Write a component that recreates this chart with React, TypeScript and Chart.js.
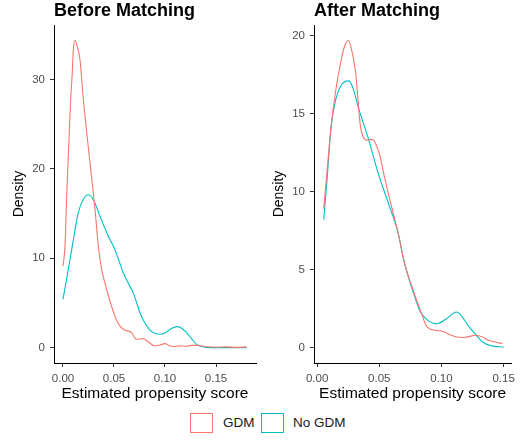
import React, { useEffect, useRef } from "react";
import { Chart, registerables } from "chart.js";

Chart.register(...registerables);

// ---------- data ----------
const beforeGdmX = [0.0, 0.002, 0.0036, 0.0059, 0.0075, 0.0091, 0.0101, 0.0118, 0.014, 0.0167, 0.02, 0.024, 0.0265, 0.03, 0.0314, 0.0346, 0.038, 0.041, 0.044, 0.0477, 0.052, 0.0559, 0.06, 0.064, 0.067, 0.072, 0.0787, 0.084, 0.09, 0.095, 0.1, 0.104, 0.108, 0.115, 0.12, 0.126, 0.131, 0.136, 0.141, 0.15, 0.16, 0.17, 0.18];
const beforeGdmY = [9.1, 11.4, 16.9, 23.3, 27.7, 30.7, 33.3, 34.4, 33.7, 32.2, 27.7, 23.3, 20.7, 17.0, 15.5, 11.4, 8.7, 7.3, 6.0, 4.6, 3.2, 2.4, 2.0, 1.85, 1.7, 0.93, 1.0, 0.6, 0.18, 0.3, 0.45, 0.25, 0.1, 0.2, 0.15, 0.25, 0.25, 0.18, 0.1, 0.05, 0.08, 0.03, 0.08];

const beforeNoGdmX = [0.0, 0.005, 0.0095, 0.015, 0.02, 0.0248, 0.03, 0.0363, 0.042, 0.046, 0.0493, 0.054, 0.059, 0.064, 0.069, 0.0755, 0.08, 0.085, 0.09, 0.095, 0.1, 0.106, 0.1115, 0.116, 0.121, 0.126, 0.131, 0.136, 0.141, 0.15, 0.165, 0.18];
const beforeNoGdmY = [5.4, 8.6, 11.6, 15.1, 16.6, 17.1, 16.5, 14.7, 13.1, 12.1, 11.4, 10.0, 8.4, 7.2, 6.1, 3.9, 2.8, 2.0, 1.6, 1.5, 1.65, 2.1, 2.35, 2.2, 1.7, 1.0, 0.37, 0.12, 0.03, 0.0, 0.0, 0.0];

const afterGdmX = [0.0053, 0.008, 0.0113, 0.015, 0.019, 0.022, 0.0251, 0.028, 0.031, 0.0348, 0.037, 0.04, 0.043, 0.0453, 0.048, 0.0505, 0.054, 0.0584, 0.065, 0.07, 0.0767, 0.083, 0.0885, 0.0963, 0.1016, 0.106, 0.112, 0.118, 0.1277, 0.133, 0.138, 0.144, 0.149];
const afterGdmY = [8.9, 11.3, 14.2, 16.5, 18.3, 19.3, 19.7, 19.0, 17.6, 14.2, 13.5, 13.3, 13.35, 13.3, 12.9, 12.3, 11.0, 9.5, 7.4, 5.5, 3.8, 2.4, 1.32, 1.1, 1.04, 0.85, 0.68, 0.65, 0.79, 0.68, 0.47, 0.35, 0.26];

const afterNoGdmX = [0.0053, 0.008, 0.0113, 0.015, 0.02, 0.0257, 0.029, 0.0335, 0.0414, 0.049, 0.058, 0.065, 0.07, 0.0767, 0.083, 0.09, 0.0963, 0.104, 0.112, 0.1224, 0.128, 0.133, 0.14, 0.15];
const afterNoGdmY = [8.2, 10.8, 14.2, 15.9, 16.9, 17.1, 16.6, 15.3, 13.35, 11.2, 9.1, 7.4, 5.5, 3.7, 2.3, 1.7, 1.53, 1.85, 2.28, 1.32, 0.8, 0.36, 0.12, 0.04];

const xTickValues = [0, 0.05, 0.1, 0.15];
const beforeYTicks = [0, 10, 20, 30];
const afterYTicks = [0, 5, 10, 15, 20];

const groupLabels = ["GDM", "No GDM"];
const panelTitles = ["Before Matching", "After Matching"];
const xAxisTitle = "Estimated propensity score";
const yAxisTitle = "Density";

const RED = "#F8766D";
const CYAN = "#00BFC4";
const FONT = '"Liberation Sans", Arial, sans-serif';

const zip = (xs: number[], ys: number[]) => xs.map((x, i) => ({ x, y: ys[i] }));

const panelTitlePlugin = {
  id: "panelTitle",
  afterDraw(chart: any, _args: any, opts: any) {
    const { ctx, chartArea } = chart;
    ctx.save();
    ctx.font = `bold 18px ${FONT}`;
    ctx.fillStyle = "#000";
    ctx.textAlign = "left";
    ctx.textBaseline = "alphabetic";
    ctx.fillText(opts.text, chartArea.left, 16);
    ctx.restore();
  },
};

function makeChart(
  canvas: HTMLCanvasElement,
  title: string,
  gdm: { x: number; y: number }[],
  nogdm: { x: number; y: number }[],
  xMin: number,
  xMax: number,
  yMin: number,
  yMax: number,
  yTicks: number[]
) {
  return new Chart(canvas, {
    type: "line",
    data: {
      datasets: [
        {
          label: groupLabels[0],
          data: gdm,
          borderColor: RED,
          borderWidth: 1.1,
          pointRadius: 0,
          cubicInterpolationMode: "monotone",
          fill: false,
        },
        {
          label: groupLabels[1],
          data: nogdm,
          borderColor: CYAN,
          borderWidth: 1.1,
          pointRadius: 0,
          cubicInterpolationMode: "monotone",
          fill: false,
        },
      ],
    },
    options: {
      responsive: false,
      animation: false,
      devicePixelRatio: 1,
      layout: { padding: { top: 25, right: 4, left: 0, bottom: 0 } },
      plugins: {
        legend: { display: false },
        tooltip: { enabled: false },
        panelTitle: { text: title },
      } as any,
      scales: {
        x: {
          type: "linear",
          min: xMin,
          max: xMax,
          afterBuildTicks: (s: any) => {
            s.ticks = xTickValues.map((v) => ({ value: v }));
          },
          afterFit: (s: any) => {
            s.height = 42;
          },
          ticks: {
            autoSkip: false,
            maxRotation: 0,
            padding: 5,
            color: "#4D4D4D",
            font: { size: 11.5, family: FONT },
            callback: (v: any) => Number(v).toFixed(2),
          },
          grid: {
            display: true,
            drawOnChartArea: false,
            drawTicks: true,
            tickLength: 4,
            color: "#333333",
          },
          border: { display: true, color: "#000", width: 1 },
          title: {
            display: true,
            text: xAxisTitle,
            color: "#000",
            font: { size: 15.5, family: FONT },
            padding: { top: 0, bottom: 2 },
          },
        },
        y: {
          type: "linear",
          min: yMin,
          max: yMax,
          afterBuildTicks: (s: any) => {
            s.ticks = yTicks.map((v) => ({ value: v }));
          },
          afterFit: (s: any) => {
            s.width = 54;
          },
          ticks: {
            autoSkip: false,
            padding: 5,
            color: "#4D4D4D",
            font: { size: 11.5, family: FONT },
            callback: (v: any) => String(v),
          },
          grid: {
            display: true,
            drawOnChartArea: false,
            drawTicks: true,
            tickLength: 4,
            color: "#333333",
          },
          border: { display: true, color: "#000", width: 1 },
          title: {
            display: true,
            text: yAxisTitle,
            color: "#000",
            font: { size: 14, family: FONT },
            padding: { top: 11, bottom: 0 },
          },
        },
      },
    } as any,
    plugins: [panelTitlePlugin],
  });
}

export default function App() {
  const leftRef = useRef<HTMLCanvasElement>(null);
  const rightRef = useRef<HTMLCanvasElement>(null);

  useEffect(() => {
    const c1 = makeChart(
      leftRef.current!,
      panelTitles[0],
      zip(beforeGdmX, beforeGdmY),
      zip(beforeNoGdmX, beforeNoGdmY),
      -0.0088,
      0.1892,
      -1.72,
      36.1,
      beforeYTicks
    );
    const c2 = makeChart(
      rightRef.current!,
      panelTitles[1],
      zip(afterGdmX, afterGdmY),
      zip(afterNoGdmX, afterNoGdmY),
      -0.0025,
      0.156,
      -0.985,
      20.68,
      afterYTicks
    );
    return () => {
      c1.destroy();
      c2.destroy();
    };
  }, []);

  const legendText: React.CSSProperties = {
    position: "absolute",
    top: 414,
    fontFamily: FONT,
    fontSize: 13.5,
    lineHeight: "18px",
    color: "#1a1a1a",
  };
  const box = (left: number, color: string): React.CSSProperties => ({
    position: "absolute",
    left,
    top: 413,
    width: 23,
    height: 20,
    boxSizing: "border-box",
    border: `1px solid ${color}`,
    background: "#fff",
  });

  return (
    <div
      style={{
        position: "fixed",
        left: 0,
        top: 0,
        width: 520,
        height: 440,
        background: "#fff",
      }}
    >
      <canvas
        ref={leftRef}
        width={260}
        height={405}
        style={{ position: "absolute", left: 0, top: 0 }}
      />
      <canvas
        ref={rightRef}
        width={260}
        height={405}
        style={{ position: "absolute", left: 260, top: 0 }}
      />
      <div style={box(190, RED)} />
      <div style={{ ...legendText, left: 223 }}>{groupLabels[0]}</div>
      <div style={box(261, CYAN)} />
      <div style={{ ...legendText, left: 293 }}>{groupLabels[1]}</div>
    </div>
  );
}
